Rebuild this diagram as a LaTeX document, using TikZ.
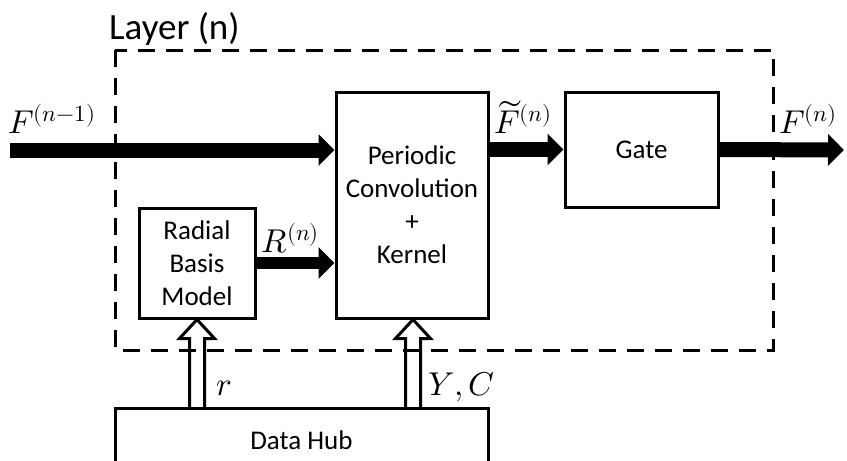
\documentclass[tikz,border=0pt]{standalone}
\usepackage{fontspec}
\usepackage{unicode-math}
\setmainfont{Carlito}
\setmathfont{Latin Modern Math}
\usetikzlibrary{arrows.meta,calc}
\tikzset{
  block/.style={draw, line width=3pt, inner sep=0pt, align=center,
    font=\fontsize{27}{33}\selectfont},
  bigarrow/.style={line width=15pt, -{Triangle[length=16pt,width=31pt]}},
  midarrow/.style={line width=12pt, -{Triangle[length=16pt,width=31pt]}},
  hollow/.style={line width=3pt, line join=miter},
  layerbox/.style={line width=3pt, dash pattern=on 17pt off 11pt},
  mathlbl/.style={inner sep=0pt, font=\fontsize{33}{38}\selectfont},
}
\begin{document}
\begin{tikzpicture}[x=1pt,y=-1pt]
\useasboundingbox (0,0) rectangle (847,461);
\clip (0,0) rectangle (847,461);

% blocks
\node[block, minimum width=152pt, minimum height=226pt] (conv) at (412,205)
  {Periodic\\Convolution\\+\\Kernel};
\node[block, minimum width=153pt, minimum height=115pt] (gate) at (641.5,149.5) {Gate};
\node[block, minimum width=116pt, minimum height=110pt] (rbm) at (197,263)
  {Radial\\Basis\\Model};
\node[block, minimum width=373pt, minimum height=70pt, anchor=north] (hub) at (301.5,407) {};
\node[font=\fontsize{27}{33}\selectfont] (hubtext) at (301.5,440) {Data Hub};

% layer frame
\draw[layerbox] (115,50) rectangle (773,350);
\node[anchor=base west, inner sep=0pt, font=\fontsize{37}{42}\selectfont] (lay) at (109,39) {Layer (n)};

% feature flow
\coordinate (fin) at (10,150);
\coordinate (fout) at (844,150);
\draw[bigarrow] (fin) -- (fin -| conv.west);
\draw[bigarrow] (gate.west -| conv.east) -- (gate.west);
\draw[bigarrow] (gate.east) -- (fout);
\draw[midarrow] (rbm.east) -- (rbm.east -| conv.west);

% hollow inputs from the data hub
\draw[hollow] (rbm.south) -- ++(-17.5,19) -- ++(10,0) -- ++(0,70)
  (rbm.south) -- ++(17.5,19) -- ++(-10,0) -- ++(0,70);
\draw[hollow] ($(rbm.south -| conv.south)+(1,0)$) coordinate (ct) -- ++(-17.5,19) -- ++(10,0) -- ++(0,70)
  (ct) -- ++(17.5,19) -- ++(-10,0) -- ++(0,70);

% labels
\node[mathlbl, anchor=base west] (lfin) at (8,133) {$F^{(n-1)}$};
\node[mathlbl, anchor=base west] (lft) at (494,133) {$\widetilde{F}^{(n)}$};
\node[mathlbl, anchor=base west] (lfout) at (779,133) {$F^{(n)}$};
\node[mathlbl, anchor=base west] (lr) at (261,252) {$R^{(n)}$};
\node[mathlbl, anchor=base west] (lrr) at (216,395) {$r$};
\node[mathlbl, anchor=base west] (lyc) at (428,395) {$Y,C$};
\end{tikzpicture}
\end{document}
